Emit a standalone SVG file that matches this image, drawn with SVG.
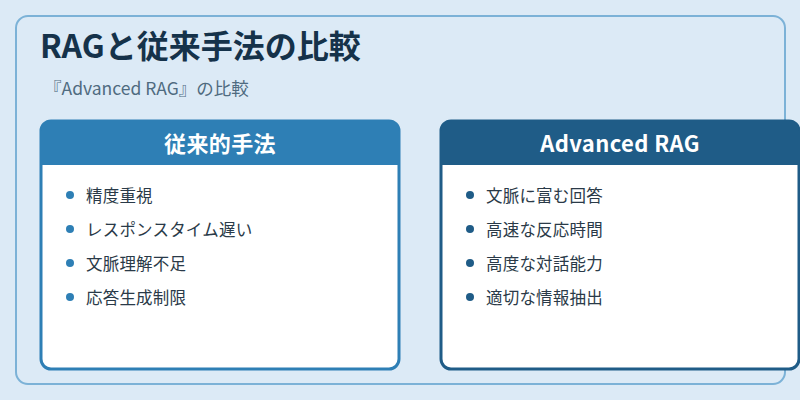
<svg xmlns="http://www.w3.org/2000/svg" width="800" height="400" viewBox="0 0 800 400">
<style>
.ttl{font-family:"Noto Sans CJK JP","Noto Sans",sans-serif;font-weight:bold;font-size:32px;fill:#15324a}
.sub{font-family:"Noto Sans CJK JP","Noto Sans",sans-serif;font-size:17.5px;fill:#4f6b80}
.hd{font-family:"Noto Sans CJK JP","Noto Sans",sans-serif;font-weight:bold;font-size:22px;fill:#fff;letter-spacing:0.4px}
.it{font-family:"Noto Sans CJK JP","Noto Sans",sans-serif;font-size:16.5px;fill:#2a3a48;letter-spacing:0.2px}
</style>
<rect width="800" height="400" fill="#dceaf6"/>
<rect x="16" y="16" width="769" height="368" rx="12" fill="#dceaf6" stroke="#7cb2d7" stroke-width="2"/>
<text class="ttl" x="40" y="58">RAGと従来手法の比較</text>
<text class="sub" x="44" y="95">『Advanced RAG』の比較</text>
<g id="traditional">
<rect x="41" y="121" width="358" height="248" rx="10" fill="#fff" stroke="#2e7fb5" stroke-width="3"/>
<path d="M41 165 V131 A10 10 0 0 1 51 121 H389 A10 10 0 0 1 399 131 V165 Z" fill="#2e7fb5"/>
<text class="hd" x="220" y="152" text-anchor="middle">従来的手法</text>
<g fill="#2e7fb5"><circle cx="70" cy="195" r="4"/><circle cx="70" cy="229" r="4"/><circle cx="70" cy="263" r="4"/><circle cx="70" cy="297" r="4"/></g>
<text class="it" x="86" y="202">精度重視</text>
<text class="it" x="86" y="236">レスポンスタイム遅い</text>
<text class="it" x="86" y="270">文脈理解不足</text>
<text class="it" x="86" y="304">応答生成制限</text>
</g>
<g id="advanced">
<rect x="441" y="121" width="358" height="248" rx="10" fill="#fff" stroke="#1f5c87" stroke-width="3"/>
<path d="M441 165 V131 A10 10 0 0 1 451 121 H789 A10 10 0 0 1 799 131 V165 Z" fill="#1f5c87"/>
<text class="hd" x="620" y="152" text-anchor="middle">Advanced RAG</text>
<g fill="#1f5c87"><circle cx="470" cy="195" r="4"/><circle cx="470" cy="229" r="4"/><circle cx="470" cy="263" r="4"/><circle cx="470" cy="297" r="4"/></g>
<text class="it" x="486" y="202">文脈に富む回答</text>
<text class="it" x="486" y="236">高速な反応時間</text>
<text class="it" x="486" y="270">高度な対話能力</text>
<text class="it" x="486" y="304">適切な情報抽出</text>
</g>
<g id="connectors"/>
</svg>
